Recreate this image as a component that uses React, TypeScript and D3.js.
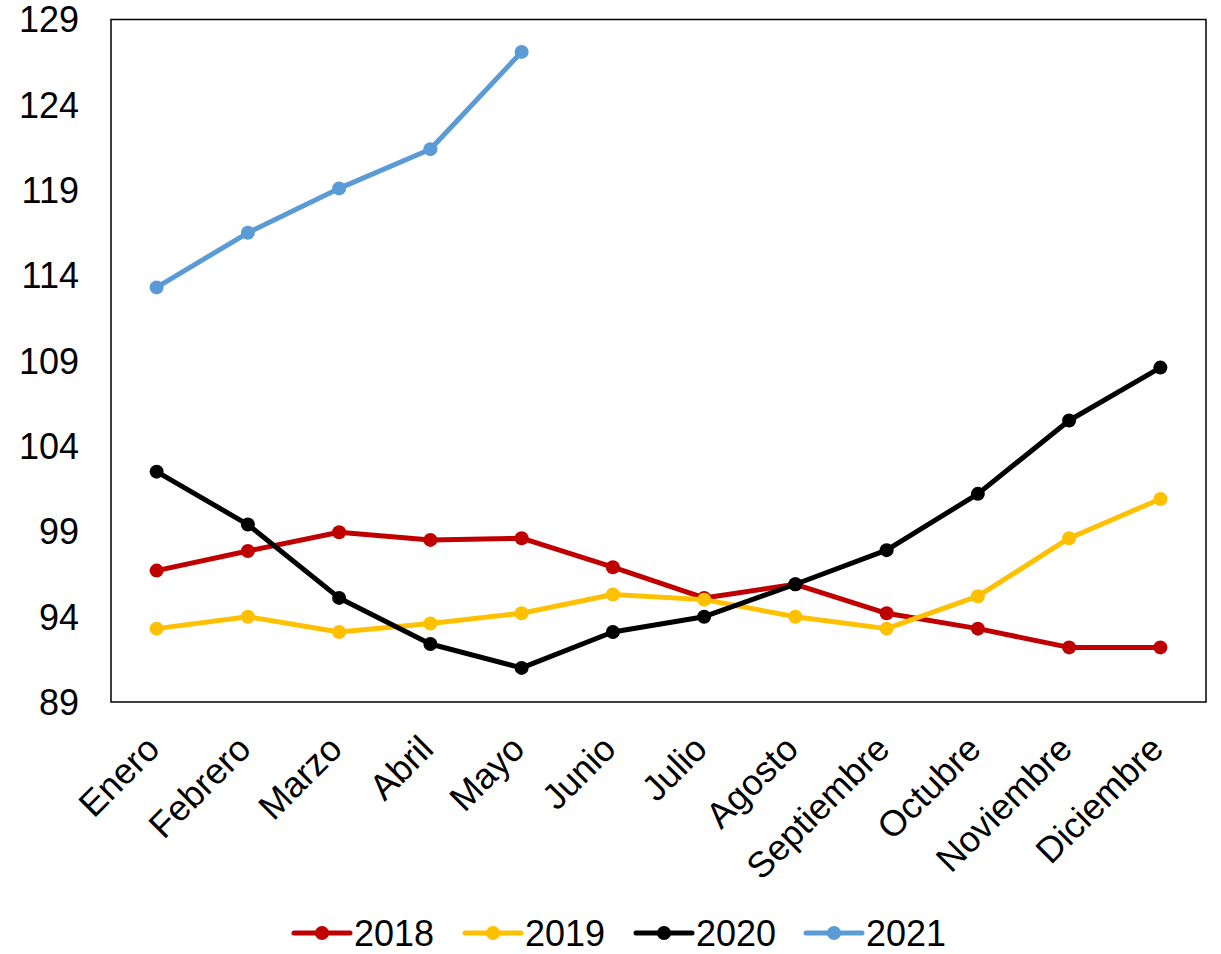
import React from "react";
import * as d3 from "d3";

const months = ["Enero", "Febrero", "Marzo", "Abril", "Mayo", "Junio", "Julio", "Agosto", "Septiembre", "Octubre", "Noviembre", "Diciembre"];
const yTicks = [89, 94, 99, 104, 109, 114, 119, 124, 129];

const s2018 = [96.7, 97.85, 98.95, 98.5, 98.6, 96.9, 95.1, 95.9, 94.2, 93.3, 92.2, 92.2];
const s2019 = [93.3, 94.0, 93.1, 93.6, 94.2, 95.3, 95.0, 94.0, 93.3, 95.2, 98.6, 100.9];
const s2020 = [102.5, 99.4, 95.1, 92.4, 91.0, 93.1, 94.0, 95.9, 97.9, 101.2, 105.5, 108.6];
const s2021 = [113.3, 116.5, 119.1, 121.4, 127.1];

const seriesNames = ["2018", "2019", "2020", "2021"];
const seriesColors = ["#C00000", "#FFC000", "#000000", "#5B9BD5"];
const seriesData = [s2018, s2019, s2020, s2021];

const W = 1221, H = 954;
const L = 111, R = 1206, T = 19.5, B = 702;
const FONT = "'Liberation Sans', Arial, sans-serif";
const FS = 36;

export default function App() {
  const x = d3.scaleBand<string>().domain(months).range([L, R]);
  const y = d3.scaleLinear().domain([89, 129]).range([B, T]);
  const cx = (m: string) => (x(m) as number) + x.bandwidth() / 2;
  const line = d3.line<number>().x((_, i) => cx(months[i])).y((v) => y(v));

  const legendX = [294, 465, 636, 806];
  const legendY = 933;

  return (
    <svg width={W} height={H} style={{ position: "absolute", left: 0, top: 0, background: "#fff" }}>
      <rect x={0} y={0} width={W} height={H} fill="#fff" />
      <rect x={L} y={T} width={R - L} height={B - T} fill="none" stroke="#000" strokeWidth={1.5} />
      {yTicks.map((t) => (
        <text key={t} x={79} y={y(t)} dy="0.36em" textAnchor="end" fontFamily={FONT} fontSize={FS} fill="#000">
          {t}
        </text>
      ))}
      {months.map((m) => (
        <text
          key={m}
          transform={`translate(${cx(m) + 5},${751}) rotate(-45)`}
          textAnchor="end"
          fontFamily={FONT}
          fontSize={FS}
          fill="#000"
        >
          {m}
        </text>
      ))}
      {seriesData.map((d, si) => (
        <g key={seriesNames[si]}>
          <path d={line(d) as string} fill="none" stroke={seriesColors[si]} strokeWidth={5} strokeLinejoin="round" />
          {d.map((v, i) => (
            <circle key={i} cx={cx(months[i])} cy={y(v)} r={7} fill={seriesColors[si]} />
          ))}
        </g>
      ))}
      {seriesNames.map((n, si) => (
        <g key={n}>
          <line x1={legendX[si]} x2={legendX[si] + 56} y1={legendY} y2={legendY} stroke={seriesColors[si]} strokeWidth={5} strokeLinecap="round" />
          <circle cx={legendX[si] + 28} cy={legendY} r={7} fill={seriesColors[si]} />
          <text x={legendX[si] + 60} y={legendY} dy="0.36em" fontFamily={FONT} fontSize={FS} fill="#000">
            {n}
          </text>
        </g>
      ))}
    </svg>
  );
}
